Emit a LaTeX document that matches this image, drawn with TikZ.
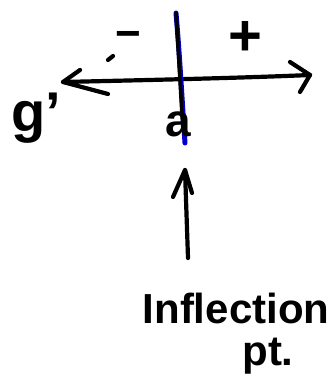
\documentclass[tikz,border=0pt]{standalone}
\usepackage{fontspec}
\setmainfont{Liberation Sans}
\begin{document}
\begin{tikzpicture}[x=1pt,y=-1pt,
  ink/.style={line width=4.2pt,line cap=round,line join=round,black},
  lbl/.style={inner sep=0pt,font=\bfseries\fontsize{40}{40}\selectfont}]
\useasboundingbox (0,0) rectangle (334,383);
% horizontal axis
\coordinate (L) at (63,82);
\coordinate (R) at (310,75);
\draw[ink] (L) .. controls (150,80) and (240,78) .. (R);
\draw[ink] (80,70) -- (L) -- (108,94);
\draw[ink] (290,62) -- (R) -- (300,92);
% vertical divider
\coordinate (T) at (176,13);
\coordinate (B) at (185,143);
\draw[line width=5pt,line cap=round,blue!80!black] (T) .. controls (180,60) and (182,100) .. (B);
\draw[ink,line width=3.6pt] (T) .. controls (179,60) and (181,100) .. (183,130);
% signs
\node[lbl] (minus) at (128,40) {\fontsize{44}{44}\selectfont −};
\node[lbl] (plus) at (245,38) {\fontsize{58}{58}\selectfont +};
\draw[ink] (108,60) -- (113,56);
% labels
\node[lbl] (g) at (36,118) {\fontsize{56}{56}\selectfont g'};
\node[lbl] (a) at (178,124) {\fontsize{46}{46}\selectfont a};
% arrow to point
\node[lbl] (inf) at (236,308) {\fontsize{42}{42}\selectfont Inflection};
\node[lbl] (pt) at (268,356) {\fontsize{42}{42}\selectfont pt.};
\coordinate (tip) at (185,170);
\draw[ink] (188,258) -- (tip);
\draw[ink] (173,197) -- (tip) -- (192,193);
\end{tikzpicture}
\end{document}
